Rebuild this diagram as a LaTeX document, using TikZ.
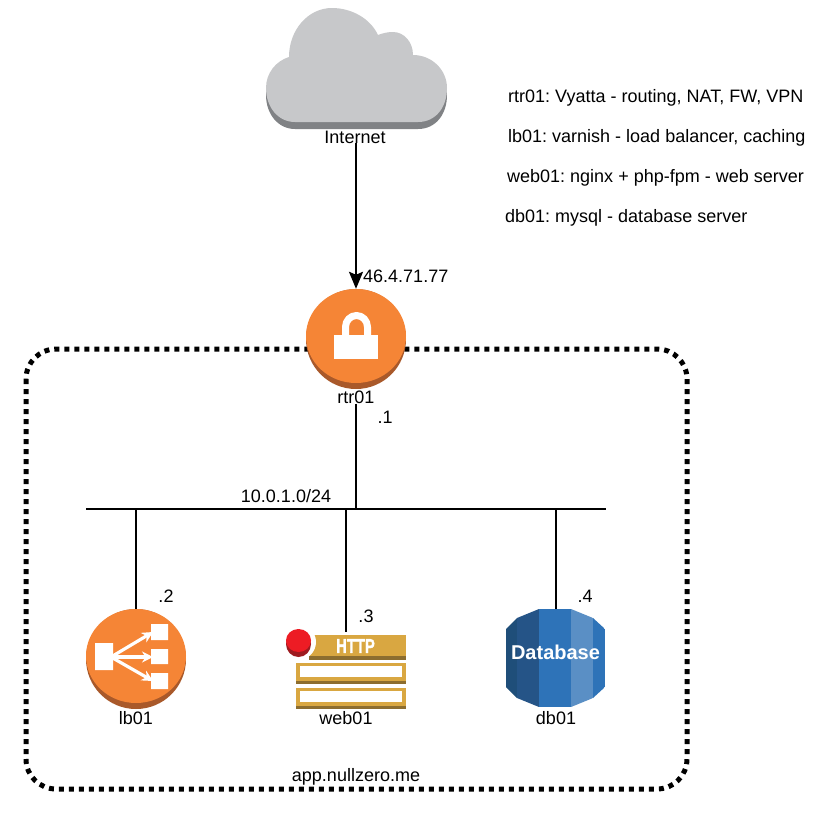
\documentclass[tikz,border=0pt]{standalone}
\usepackage{fontspec}
\setmainfont{Liberation Sans}
\newfontfamily\httpfont[FakeBold=1.5]{Liberation Sans}
\usetikzlibrary{arrows.meta}
\definecolor{awsorange}{HTML}{F58536}
\definecolor{awsorangedk}{HTML}{A9592A}
\definecolor{cloudgray}{HTML}{C7C8CA}
\definecolor{cloudgraydk}{HTML}{808285}
\definecolor{httpgold}{HTML}{D9A741}
\definecolor{httpgolddk}{HTML}{8C6D2F}
\definecolor{httpred}{HTML}{ED1C24}
\definecolor{httpreddk}{HTML}{9E1B20}
\tikzset{
	lbl/.style={font=\fontsize{18}{20}\selectfont\frenchspacing, inner sep=0pt, text=black},
	legend/.style={lbl, anchor=west},
	disc/.style={circle, inner sep=0pt, minimum size=100pt, fill=awsorangedk},
	wire/.style={line width=2pt, black},
	icon/.style={white, line width=3.2pt, -{Stealth[length=11pt,width=11pt]}}
}
\begin{document}
\begin{tikzpicture}[x=1pt, y=-1pt, line join=round]
		\useasboundingbox (0,0) rectangle (832,814);
		\fill[white] (0,0) rectangle (832,814);
		\draw[line width=5pt, dash pattern=on 5pt off 5pt, rounded corners=30pt] (26,349) rectangle (687,789);
		\foreach \dy/\c in {7/cloudgraydk,0/cloudgray}
		\fill[\c, yshift=-\dy pt] (266,88) .. controls (266,73) and (276,61) .. (289,57) .. controls (289,30) and (308,8) .. (332,8) .. controls (351,8) and (370,18) .. (378,35) .. controls (383,33) and (388,32) .. (393,32) .. controls (404,32) and (413,42) .. (413,55) .. controls (432,55) and (447,70) .. (447,88) .. controls (447,107) and (436,122) .. (418,122) -- (295,122) .. controls (278,122) and (266,107) .. (266,88) -- cycle;
		\node[disc] (rtr01) at (356,339) {};
		\node[disc] (lb01) at (136,659) {};
		\foreach \n in {rtr01,lb01} \fill[awsorange] ([yshift=3pt]\n.center) ellipse (50pt and 47pt);
		\fill[white] (334,335) rectangle (378,359);
		\draw[white, line width=7pt] (345.5,336) -- (345.5,327) arc (180:360:11 and 11.5) -- (367.5,336);
		\fill[white] (95,643) rectangle (113,670) (151,624) rectangle (168,640) (151,649) rectangle (168,664) (151,673) rectangle (168,689);
		\foreach \y in {632,657,681} \draw[icon] (111,657) -- (153,\y);
		\node[inner sep=0pt, minimum width=100pt, minimum height=76pt] (web01) at (346,670) {};
		\fill[httpgolddk] (309,635) rectangle (406,660);
		\fill[httpgold] (309,635) rectangle (406,656);
		\foreach \y in {663,688} {
			\fill[httpgolddk] (296,\y) rectangle (406,\y+21);
			\fill[httpgold] (296,\y) rectangle (406,\y+18);
			\fill[white] (300,\y+3) rectangle (402,\y+14);
		}
		\fill[white] (298,642) circle (18pt);
		\fill[httpreddk] (298.5,644) ellipse (12.5pt and 13pt);
		\fill[httpred] (298.5,640.5) ellipse (12.5pt and 11.5pt);
		\node[font=\httpfont\bfseries\fontsize{20}{22}\selectfont, text=white, inner sep=0pt, xscale=.74] (http) at (355.5,646) {HTTP};
		\node[inner sep=0pt, minimum width=99pt, minimum height=98pt] (db01) at (555.5,658) {};
		\begin{scope}
		\clip (539,609) -- (571,609) -- (593,618) -- (605,629) -- (605,687) -- (593,698) -- (571,707) -- (539,707) -- (517,698) -- (506,687) -- (506,629) -- (517,618) -- cycle;
		\foreach \a/\b/\c in {506/517/1F4E79,517/539/255487,539/571/2E73B8,571/593/5A8FC5,593/605/2E73B8} {
			\definecolor{band}{HTML}{\c}
			\fill[band] (\a,609) rectangle (\b+.3,707);
		}
		\end{scope}
		\node[font=\bfseries\fontsize{20}{22}\selectfont, text=white, inner sep=0pt] (dbtxt) at (555.5,652) {Database};
		\node[lbl] (netlbl) at (355,137) {Internet};
		\node[lbl] (rtrlbl) at (356,397) {rtr01};
		\node[lbl] (lblb) at (136,718) {lb01};
		\node[lbl] (lblweb) at (346,718) {web01};
		\node[lbl] (lbldb) at (556,718) {db01};
		\node[lbl] (zone) at (356,777) {app.nullzero.me};
		\node[legend] (leg1) at (508,98) {rtr01: Vyatta - routing, NAT, FW, VPN};
		\node[legend] (leg2) at (508,138) {lb01: varnish - load balancer, caching};
		\node[legend] (leg3) at (507,178) {web01: nginx + php-fpm - web server};
		\node[legend] (leg4) at (505,218) {db01: mysql - database server};
		\node[legend] (pubip) at (363,276) {46.4.71.77};
		\node[lbl] (ip1) at (385,417) {.1};
		\node[lbl] (subnet) at (286,496) {10.0.1.0/24};
		\node[lbl] (ip2) at (166,596) {.2};
		\node[lbl] (ip3) at (366,616) {.3};
		\node[lbl] (ip4) at (585,596) {.4};
		\coordinate (busl) at (86,509);
		\coordinate (busr) at (606,509);
		\draw[wire] (busl) -- (busr);
		\draw[wire, -{Stealth[length=17pt,width=14pt,inset=3pt]}] (netlbl.south -| rtr01) -- (rtr01);
		\draw[wire] (rtrlbl) -- (rtrlbl |- busl);
		\foreach \n in {lb01,web01,db01} \draw[wire] (\n) -- (\n |- busl);
\end{tikzpicture}
\end{document}
